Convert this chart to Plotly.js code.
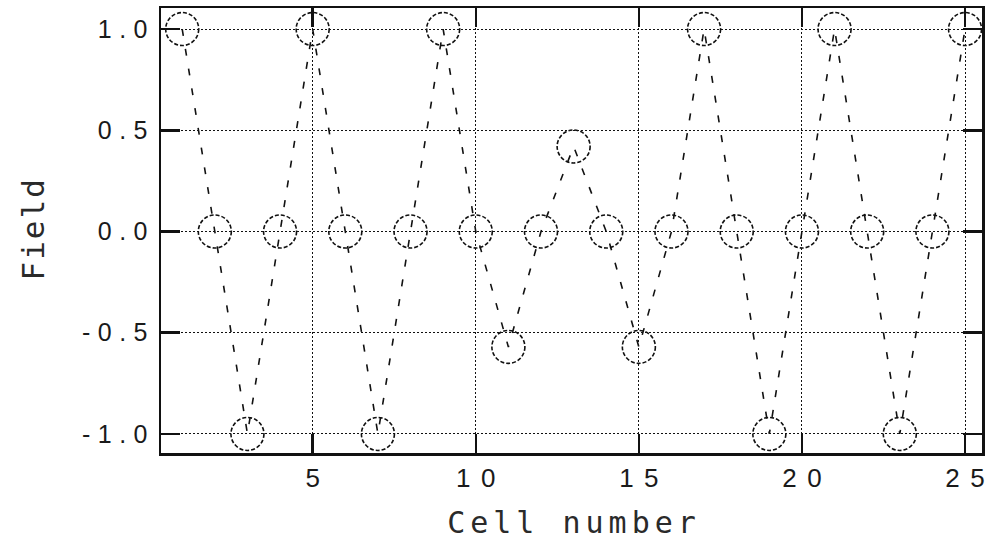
<!DOCTYPE html>
<html>
<head>
<meta charset="utf-8">
<script src="https://cdn.plot.ly/plotly-3.0.1.min.js"></script>
<style>
  html, body { margin: 0; padding: 0; background: #fff; }
  #chart { width: 985px; height: 552px; }
</style>
</head>
<body>
<div id="chart"></div>
<script>
// Field value in each cell
const cellNumber = [1, 2, 3, 4, 5, 6, 7, 8, 9, 10, 11, 12, 13,
                    14, 15, 16, 17, 18, 19, 20, 21, 22, 23, 24, 25];
const fieldValue = [1, 0, -1, 0, 1, 0, -1, 0, 1, 0, -0.57, 0, 0.42,
                    0, -0.57, 0, 1, 0, -1, 0, 1, 0, -1, 0, 1];

// Axis ticks and titles
const xTickVals = [5, 10, 15, 20, 25];
const xTickText = ['5', '10', '15', '20', '25'];
const yTickVals = [1.0, 0.5, 0.0, -0.5, -1.0];
const yTickText = ['1.0', '0.5', '0.0', '-0.5', '-1.0'];
const xTitle = 'Cell number';
const yTitle = 'Field';

const ink = '#111';
const titleFont = { family: 'DejaVu Sans Mono', size: 30, color: '#2a2a2a' };

// Wide, plotter-style lettering: extra space between characters only,
// none after the last one so centring and right alignment stay true.
function spaced(str, px) {
  if (str.length < 2) return str;
  return '<span style="letter-spacing:' + px + 'px">' + str.slice(0, -1) +
         '</span>' + str.slice(-1);
}

const trace = {
  x: cellNumber,
  y: fieldValue,
  type: 'scatter',
  mode: 'lines',
  line: { color: ink, width: 1.6, dash: '7px,13px' },
  hoverinfo: 'x+y',
  showlegend: false
};

// dashed open circle around every cell value, fixed pixel radius
const rings = cellNumber.map((c, i) => ({
  type: 'circle',
  xref: 'x', yref: 'y',
  xsizemode: 'pixel', ysizemode: 'pixel',
  xanchor: c, yanchor: fieldValue[i],
  x0: -16.5, x1: 16.5, y0: -16.5, y1: 16.5,
  line: { color: ink, width: 1.6, dash: '4px,2px' },
  layer: 'above'
}));

const axisCommon = {
  showline: true, mirror: 'ticks', linecolor: ink, linewidth: 2.5,
  ticks: 'inside', ticklen: 19, tickwidth: 2.5, tickcolor: ink,
  showgrid: true, gridcolor: ink, gridwidth: 1, griddash: '2px,2px',
  zeroline: false, tickmode: 'array'
};

const layout = {
  width: 985, height: 552,
  margin: { l: 161, r: 3, t: 8, b: 99 },
  paper_bgcolor: '#fff', plot_bgcolor: '#fff',
  showlegend: false,
  xaxis: Object.assign({}, axisCommon, {
    range: [0.35, 25.52],
    tickvals: xTickVals, ticktext: xTickText.map(s => spaced(s, 10.5)),
    tickfont: { family: 'Liberation Sans', size: 26, color: '#1a1a1a' },
    ticklabelstandoff: 0,
    title: { text: spaced(xTitle, 5), standoff: 21, font: titleFont }
  }),
  yaxis: Object.assign({}, axisCommon, {
    range: [-1.094, 1.104],
    tickvals: yTickVals, ticktext: yTickText.map(s => spaced(s, 7.5)),
    tickfont: { family: 'Liberation Sans', size: 25, color: '#1a1a1a' },
    ticklabelstandoff: 6
  }),
  // vertical title of the value axis, set a little closer to the tick labels
  annotations: [{
    text: spaced(yTitle, 2),
    xref: 'paper', yref: 'paper', x: 0, y: 0.5,
    xanchor: 'center', yanchor: 'middle', xshift: -129,
    textangle: -90, showarrow: false,
    font: Object.assign({}, titleFont, { size: 31 })
  }],
  shapes: rings
};

Plotly.newPlot('chart', [trace], layout, { displayModeBar: false, staticPlot: true });
</script>
</body>
</html>
